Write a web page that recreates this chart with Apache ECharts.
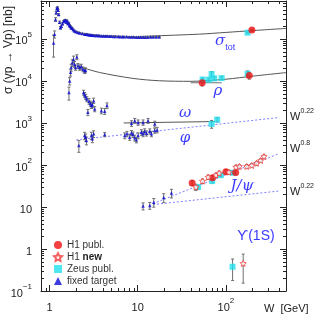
<!DOCTYPE html>
<html><head><meta charset="utf-8">
<script src="https://cdn.jsdelivr.net/npm/echarts@6/dist/echarts.min.js"></script>
<style>html,body{margin:0;padding:0;background:#fff}#c{width:316px;height:316px}</style>
</head><body><div id="c"></div>
<script>
// ---------------- data (W in GeV, sigma in nb) ----------------
// fixed target: total cross section
const totW = [1.11,1.14,1.17,1.19,1.21,1.23,1.25,1.27,1.30,1.33,1.36,1.40,1.44,1.48,1.52,1.55,1.58,1.62,1.65,1.68,1.72,1.76,1.80,1.86,1.92,2.0,2.1,2.2,2.35,2.5,2.6,2.7,2.8,2.9,3.0,3.1,3.25,3.4,3.55,3.7,3.9,4.1,4.3,4.5,4.75,5.0,5.3,5.6,6.0,6.3,6.7,7.0,7.5,8.0,8.5,9.0,9.6,10.2,10.8,11.5,12.2,13.0,14.0,15.0,16.2,17.5];
const totS = [8.0e4,1.3e5,2.9e5,4.2e5,5.2e5,5.6e5,4.8e5,3.8e5,2.5e5,1.85e5,2.0e5,2.3e5,2.6e5,2.75e5,2.8e5,2.5e5,2.7e5,2.3e5,2.4e5,2.1e5,2.0e5,1.85e5,1.8e5,1.65e5,1.55e5,1.48e5,1.42e5,1.38e5,1.34e5,1.30e5,1.29e5,1.27e5,1.25e5,1.24e5,1.23e5,1.22e5,1.21e5,1.21e5,1.20e5,1.19e5,1.18e5,1.18e5,1.17e5,1.17e5,1.16e5,1.16e5,1.15e5,1.15e5,1.14e5,1.13e5,1.13e5,1.12e5,1.12e5,1.11e5,1.11e5,1.11e5,1.10e5,1.10e5,1.10e5,1.10e5,1.10e5,1.10e5,1.11e5,1.11e5,1.11e5,1.11e5];
const totE = [4.3e4,2.5e4,3e4,3e4,3e4,2.5e4,2.5e4,2e4,1.5e4,1.2e4,1.2e4,1.2e4,1.2e4,1.2e4,1.2e4,1.2e4,1.2e4,1e4,1e4,1e4,8e3,8e3,8e3,6e3,6e3,5e3,5e3,5e3,4e3,4e3,4e3,4e3,4e3,4e3,4e3,4e3,4e3,3e3,3e3,3e3,3e3,3e3,3e3,3e3,3e3,3e3,3e3,3e3,3e3,3e3,3e3,3e3,3e3,3e3,3e3,3e3,3e3,3e3,3e3,3e3,3e3,3e3,3e3,3e3,3e3,3e3];
// fixed target: rho
const rhoW = [1.66,1.69,1.73,1.76,1.81,1.87,1.92,1.97,2.04,2.10,2.19,2.29,2.39,2.50,2.56];
const rhoS = [5.3e3,1.0e4,1.6e4,2.1e4,2.7e4,3.3e4,2.5e4,2.1e4,3.7e4,2.3e4,2.1e4,2.2e4,1.9e4,1.75e4,1.8e4];
const rhoE = [1.8e3,2e3,3e3,4e3,5e3,6e3,4e3,3e3,5e3,3e3,3e3,3e3,2.5e3,2.5e3,2.5e3];
// fixed target: omega
const omgW = [2.43,2.50,2.57,2.65,2.72,2.80,2.90,2.98,3.06,3.16,3.25,3.87,4.22,4.48,8.5,9.25,10.1,11.5,13.1,15.6];
const omgS = [5.3e3,4.7e3,4.2e3,3.7e3,1.8e3,3.3e3,2.9e3,2.6e3,2.7e3,3.4e3,2.15e3,1.95e3,1.9e3,2.6e3,980,1130,1030,1030,1130,950];
const omgE = [700,600,600,500,300,500,400,400,400,500,300,300,300,400,150,150,150,150,150,150];
// fixed target: phi
const phiW = [2.15,2.50,2.57,2.62,2.98,3.06,3.16,4.22,7.12,7.56,8.11,8.48,8.84,9.25,9.66,10.1,11.0,11.5,12.0,12.6,13.7,14.3,15.6,16.6];
const phiS = [290,500,457,381,501,419,550,530,501,550,457,580,530,442,396,501,600,550,634,568,634,550,658,683];
const phiE = [90,100,90,80,100,80,100,60,80,80,70,80,80,70,60,80,90,80,90,80,90,80,90,100];
// fixed target: J/psi
const jpsiW = [11.5,13.7,15.2,19.7,24.1];
const jpsiS = [10.5,10.8,12.9,16.7,21.4];
const jpsiE = [2,2,3,4,5];
// H1 published (tot, rho, rho, J/psi x4)
const h1W = [197,53.8,184,41.4,70.6,100,129];
const h1S = [1.63e5,9.06e3,1.35e4,37.1,49.8,69,66.4];
const h1E = [1.0e4,1.5e3,2.5e3,5,6,8,8];
const h1RhoWLo = 39.7, h1RhoWHi = 89.4;
// ZEUS published (tot, rho x6, omega x2, J/psi x4, Upsilon)
const zeusW = [176,54.4,64,68.8,73.7,89.4,176,68.8,79.6,48.4,69.9,87.7,119,119];
const zeusS = [1.41e5,1.08e4,1.07e4,1.46e4,1.15e4,1.17e4,1.48e4,948,1200,29.8,41.3,57.3,65.3,0.378];
const zeusE = [5e3,1e3,1e3,2e3,1e3,1e3,2.5e3,200,150,3,4,5,6,0.2];
// H1 new (J/psi x13, Upsilon)
const newW = [45.6,54.3,62.9,76.9,83.9,108,130,142,172,196,223,248,270,157];
const newS = [29.8,41.3,51.4,57.3,64,67.6,88.8,92.3,92.3,97.3,110,128,159,0.454];
const newE = [5,5,6,6,7,7,9,9,10,10,12,13,15,0.3];
// curves / power-law lines
const totCurveW = [10,13.7,50,100,200,480];
const totCurveS = [1.14e5,1.17e5,1.3e5,1.43e5,1.58e5,1.78e5];
const rhoCurveW = [2.2,3.7,8.8,17.7,40,100,200,480];
const rhoCurveS = [2.17e4,1.59e4,1.15e4,1.01e4,9.8e3,1.1e4,1.3e4,1.58e4];
const omgLineW = [6.93,75];
const omgLineS = [1000,1080];
const phiLineW = [2.01,390];
const phiLineS = [396,1340];
const jpsiSteepW = [14.9,393];
const jpsiSteepS = [12.0,184];
const jpsiFlatW = [14.9,393];
const jpsiFlatS = [11.4,23.9];
// axis
const xMin = 0.8, xMax = 480, yMin = 0.1, yMax = 8e5;
const yMinorTicks = [], xMinorTicks = [];
for (let k = -1; k <= 5; k++) for (let m = 2; m <= 9; m++) { const v = m * Math.pow(10, k); if (v < yMax) yMinorTicks.push(v); }
for (let k = -1; k <= 2; k++) for (let m = 2; m <= 9; m++) { const v = m * Math.pow(10, k); if (v > xMin && v < xMax) xMinorTicks.push(v); }
xMinorTicks.unshift(0.9);

// ---------------- helpers ----------------
const zip = (a, b) => a.map((v, i) => [v, b[i]]);
const errRows = (w, s, e) => w.map((v, i) => [v, Math.max(s[i] - e[i], s[i] * 0.05), s[i] + e[i]]);
const FONT = 'Liberation Sans, Arial, sans-serif';
const BLUE = '#0a0ad8', RED = '#f01010', CYAN = '#22e0ec', LBLUE = '#7f7fff', TXTB = '#3b3bff';

const fixedPts = [].concat(zip(totW, totS), zip(rhoW, rhoS), zip(omgW, omgS), zip(phiW, phiS), zip(jpsiW, jpsiS));
const vErr = [].concat(errRows(totW, totS, totE), errRows(rhoW, rhoS, rhoE), errRows(omgW, omgS, omgE),
  errRows(phiW, phiS, phiE), errRows(jpsiW, jpsiS, jpsiE), errRows(h1W, h1S, h1E), errRows(zeusW, zeusS, zeusE),
  errRows(newW, newS, newE));
const hErr = [[h1RhoWLo, h1RhoWHi, h1S[1]]];

function vErrRender(params, api) {
  const x = api.value(0), lo = api.value(1), hi = api.value(2);
  const p1 = api.coord([x, lo]), p2 = api.coord([x, hi]);
  const st = { stroke: '#707070', lineWidth: 1 };
  const c = 1.5;
  return { type: 'group', children: [
    { type: 'line', shape: { x1: p1[0], y1: p1[1], x2: p2[0], y2: p2[1] }, style: st },
    { type: 'line', shape: { x1: p1[0] - c, y1: p1[1], x2: p1[0] + c, y2: p1[1] }, style: st },
    { type: 'line', shape: { x1: p2[0] - c, y1: p2[1], x2: p2[0] + c, y2: p2[1] }, style: st }
  ] };
}
function hErrRender(params, api) {
  const p1 = api.coord([api.value(0), api.value(2)]), p2 = api.coord([api.value(1), api.value(2)]);
  return { type: 'line', shape: { x1: p1[0], y1: p1[1], x2: p2[0], y2: p2[1] }, style: { stroke: '#707070', lineWidth: 1 } };
}
function yTickRender(params, api) {
  const cs = params.coordSys;
  const y = Math.round(api.coord([1, api.value(1)])[1]) + 0.5;
  const st = { stroke: '#222', lineWidth: 1 };
  return { type: 'group', children: [
    { type: 'line', shape: { x1: cs.x, y1: y, x2: cs.x + 3, y2: y }, style: st },
    { type: 'line', shape: { x1: cs.x + cs.width, y1: y, x2: cs.x + cs.width - 3, y2: y }, style: st }
  ] };
}
function xTickRender(params, api) {
  const cs = params.coordSys;
  const x = Math.round(api.coord([api.value(0), 1])[0]) + 0.5;
  const st = { stroke: '#222', lineWidth: 1 };
  return { type: 'group', children: [
    { type: 'line', shape: { x1: x, y1: cs.y + cs.height, x2: x, y2: cs.y + cs.height - 3 }, style: st },
    { type: 'line', shape: { x1: x, y1: cs.y, x2: x, y2: cs.y + 3 }, style: st }
  ] };
}
const rich = {
  b: { fontSize: 11, lineHeight: 16, verticalAlign: 'bottom', color: '#222', fontFamily: FONT },
  s: { fontSize: 8, lineHeight: 9, verticalAlign: 'top', color: '#222', fontFamily: FONT }
};
function powLabel(v) {
  const e = Math.round(Math.log10(v));
  if (e === 0) return '{b|1}';
  if (e === 1) return '{b|10}';
  return '{b|10}{s|' + (e < 0 ? '\u2212' + (-e) : e) + '}';
}
const axisCommon = {
  type: 'log', logBase: 10,
  axisLine: { show: true, lineStyle: { color: '#222', width: 1 } },
  axisTick: { show: true, inside: true, length: 6, lineStyle: { color: '#222' } },
  splitLine: { show: false }
};
const STAR = 'path://M0,-10 L2.9,-4 L9.5,-3.1 L4.8,1.5 L5.9,8.1 L0,5 L-5.9,8.1 L-4.8,1.5 L-9.5,-3.1 L-2.9,-4 Z';
const wRich = {
  a: { fontSize: 11, fill: '#222', lineHeight: 15, verticalAlign: 'bottom', fontFamily: FONT },
  s: { fontSize: 7, fill: '#222', lineHeight: 8, verticalAlign: 'top', fontFamily: FONT }
};

const chart = echarts.init(document.getElementById('c'), null, { renderer: 'canvas' });
chart.setOption({
  animation: false,
  backgroundColor: '#fff',
  textStyle: { fontFamily: FONT },
  grid: { left: 41, right: 30, top: 1, bottom: 25 },
  xAxis: [
    Object.assign({}, axisCommon, { min: xMin, max: xMax, position: 'bottom',
      axisLabel: { formatter: powLabel, rich: rich, margin: 6, showMinLabel: false, showMaxLabel: false } }),
    Object.assign({}, axisCommon, { min: xMin, max: xMax, position: 'top', axisLabel: { show: false } })
  ],
  yAxis: [
    Object.assign({}, axisCommon, { min: yMin, max: yMax, position: 'left',
      axisLabel: { formatter: powLabel, rich: rich, margin: 9, showMinLabel: true, showMaxLabel: false } }),
    Object.assign({}, axisCommon, { min: yMin, max: yMax, position: 'right', axisLabel: { show: false } })
  ],
  legend: {
    orient: 'vertical', left: 48, top: 235, itemWidth: 8, itemHeight: 8, itemGap: 2,
    data: ['H1 publ.', 'H1 new', 'Zeus publ.', 'fixed target'],
    textStyle: { fontSize: 10, color: '#333', fontFamily: FONT, rich: { n: { fontSize: 10, fontWeight: 'bold', color: '#222' } } },
    formatter: n => n === 'H1 new' ? 'H1 {n|new}' : n,
    selectedMode: false
  },
  series: [
    { type: 'custom', silent: true, renderItem: yTickRender, data: yMinorTicks.map(v => [1, v]), z: 1 },
    { type: 'custom', silent: true, renderItem: xTickRender, data: xMinorTicks.map(v => [v, 1]), z: 1 },
    { type: 'line', silent: true, data: zip(totCurveW, totCurveS), smooth: 0.3, showSymbol: false, lineStyle: { color: '#555', width: 1 }, z: 2 },
    { type: 'line', silent: true, data: zip(rhoCurveW, rhoCurveS), smooth: 0.3, showSymbol: false, lineStyle: { color: '#555', width: 1 }, z: 2 },
    { type: 'line', silent: true, data: zip(omgLineW, omgLineS), showSymbol: false, lineStyle: { color: '#555', width: 1 }, z: 2 },
    { type: 'line', silent: true, data: zip(phiLineW, phiLineS), showSymbol: false, lineStyle: { color: LBLUE, width: 1, type: [2, 2] }, z: 2 },
    { type: 'line', silent: true, data: zip(jpsiSteepW, jpsiSteepS), showSymbol: false, lineStyle: { color: LBLUE, width: 1, type: [2, 2] }, z: 2 },
    { type: 'line', silent: true, data: zip(jpsiFlatW, jpsiFlatS), showSymbol: false, lineStyle: { color: LBLUE, width: 1, type: [2, 2] }, z: 2 },
    { type: 'custom', silent: true, renderItem: vErrRender, data: vErr, z: 3 },
    { type: 'custom', silent: true, renderItem: hErrRender, data: hErr, z: 3 },
    { name: 'fixed target', type: 'scatter', data: fixedPts, symbol: 'triangle', symbolSize: 3.5, itemStyle: { color: BLUE }, z: 4 },
    { name: 'Zeus publ.', type: 'scatter', data: zip(zeusW, zeusS), symbol: 'rect', symbolSize: 6, itemStyle: { color: CYAN }, z: 5 },
    { name: 'H1 publ.', type: 'scatter', data: zip(h1W, h1S), symbol: 'circle', symbolSize: 7, itemStyle: { color: RED }, z: 6 },
    { name: 'H1 new', type: 'scatter', data: zip(newW, newS), symbol: STAR, symbolSize: 6, itemStyle: { color: '#fff', borderColor: '#f03a3a', borderWidth: 1 }, z: 6 }
  ],
  graphic: [
    { type: 'text', x: 9, y: 50, rotation: Math.PI / 2, style: { text: '\u03c3 (\u03b3p \u2192 Vp) [nb]', fontSize: 12, fill: '#222', align: 'center', verticalAlign: 'middle', fontFamily: FONT } },
    { type: 'text', x: 264, y: 309, style: { text: 'W  [GeV]', fontSize: 11, fill: '#222', align: 'left', verticalAlign: 'middle', fontFamily: FONT } },
    { type: 'text', x: 215, y: 43, style: { text: '{g|\u03c3}{t|tot}', verticalAlign: 'middle', rich: { g: { fontSize: 15, fontStyle: 'italic', fill: TXTB, fontFamily: 'DejaVu Serif', lineHeight: 18, verticalAlign: 'top' }, t: { fontSize: 9, fill: TXTB, fontFamily: FONT, lineHeight: 12, verticalAlign: 'bottom' } } } },
    { type: 'text', x: 218, y: 91, style: { text: '\u03c1', fontSize: 15, fontStyle: 'italic', fill: TXTB, align: 'center', verticalAlign: 'middle', fontFamily: 'DejaVu Serif' } },
    { type: 'text', x: 185, y: 113, style: { text: '\u03c9', fontSize: 15, fontStyle: 'italic', fill: TXTB, align: 'center', verticalAlign: 'middle', fontFamily: 'DejaVu Serif' } },
    { type: 'text', x: 185, y: 138, style: { text: '\u03c6', fontSize: 15, fontStyle: 'italic', fill: TXTB, align: 'center', verticalAlign: 'middle', fontFamily: 'DejaVu Serif' } },
    { type: 'text', x: 242, y: 186, style: { text: 'J/\u03c8', fontSize: 15, fontStyle: 'italic', fill: TXTB, align: 'center', verticalAlign: 'middle', fontFamily: 'DejaVu Serif' } },
    { type: 'text', x: 256, y: 236, style: { text: '\u03d2(1S)', fontSize: 14, fill: TXTB, align: 'center', verticalAlign: 'middle', fontFamily: FONT } },
    { type: 'text', x: 290, y: 115, style: { text: '{a|W}{s|0.22}', verticalAlign: 'middle', rich: wRich } },
    { type: 'text', x: 290, y: 147, style: { text: '{a|W}{s|0.8}', verticalAlign: 'middle', rich: wRich } },
    { type: 'text', x: 290, y: 190, style: { text: '{a|W}{s|0.22}', verticalAlign: 'middle', rich: wRich } }
  ]
});
</script>
</body></html>
